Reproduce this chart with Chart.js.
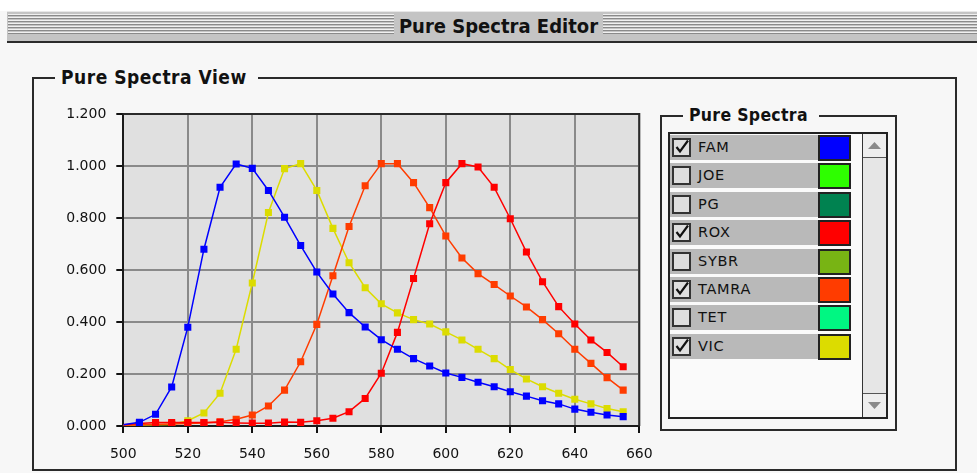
<!DOCTYPE html>
<html>
<head>
<meta charset="utf-8">
<title>Pure Spectra Editor</title>
<script src="https://cdn.jsdelivr.net/npm/chart.js@4.4.1/dist/chart.umd.min.js"></script>
<style>
  html, body { margin: 0; padding: 0; width: 977px; height: 473px; overflow: hidden; background: #f7f7f7; font-family: "DejaVu Sans", sans-serif; }
  #topstrip { position: absolute; left: 0; top: 0; width: 977px; height: 11px; background: #ffffff; }
  #titlebar { position: absolute; left: 7px; top: 11px; width: 970px; height: 30px; background: #c4c4c4; border-top: 1px solid #e8e8e8; box-sizing: border-box; }
  .stripes { position: absolute; top: 2px; height: 21px;
    background: repeating-linear-gradient(to bottom, #f0f0f0 0, #f0f0f0 1px, #8a8a8a 1px, #8a8a8a 2px, #c4c4c4 2px, #c4c4c4 3px); }
  #titletext { position: absolute; left: 387px; width: 209px; top: 0; height: 28px; line-height: 28px; text-align: center;
    font-family: "DejaVu Sans Condensed", "DejaVu Sans", sans-serif; font-stretch: condensed; font-weight: bold; font-size: 20px; color: #111; background: #c4c4c4; }
  #titleline { position: absolute; left: 7px; top: 41px; width: 970px; height: 2px; background: #2c2c2c; }
  .group { position: absolute; border: 2px solid #2a2a2a; box-sizing: border-box; }
  .grouptitle { position: absolute; background: #f7f7f7; font-family: "DejaVu Sans Condensed", "DejaVu Sans", sans-serif; font-stretch: condensed;
    font-weight: bold; color: #111; white-space: nowrap; }
  #viewgroup { left: 32px; top: 77px; width: 925px; height: 394px; }
  #viewtitle { left: 55px; top: 66px; padding: 0 11px 0 6px; font-size: 19px; line-height: 22px; letter-spacing: 0.5px; }
  #legendgroup { left: 660px; top: 115px; width: 237px; height: 316px; }
  #legendtitle { left: 683px; top: 105px; padding: 0 11px 0 6px; font-size: 17.5px; line-height: 20px; letter-spacing: 0.3px; }
  #listbox { position: absolute; left: 668px; top: 132px; width: 220px; height: 287px; border: 2px solid #222; box-sizing: border-box; background: #fafafa; }
  #scroll { position: absolute; right: 0; top: 0; width: 23px; height: 283px; border-left: 1px solid #333; background: #e6e6e6; }
  .sbtn { position: absolute; left: 0; width: 23px; height: 23px; background: #eeeeee; }
  #sup { top: 0; border-bottom: 1px solid #555; }
  #sdown { bottom: 0; border-top: 1px solid #555; }
  .sbtn svg { position: absolute; left: 5px; top: 8px; }
  .row { position: absolute; left: 0; width: 181px; height: 25px; background: #b9b9b9; }
  .cb { position: absolute; left: 2px; top: 3px; width: 19px; height: 19px; border: 2px solid #333; box-sizing: border-box; background: #dedede; }
  .cb svg { position: absolute; left: 0; top: 0; }
  .lbl { position: absolute; left: 28px; top: 0; height: 25px; line-height: 25px; font-size: 14.5px; letter-spacing: 0.7px; color: #111; }
  .sw { position: absolute; left: 148px; top: 0; width: 33px; height: 26px; border: 2px solid #222; box-sizing: border-box; }
  #plot { position: absolute; left: 30px; top: 100px; width: 640px; height: 372px; }
</style>
</head>
<body>
<div id="topstrip"></div>
<div id="titlebar">
  <div class="stripes" style="left:1px;width:386px;"></div>
  <div class="stripes" style="left:596px;width:374px;"></div>
  <div id="titletext">Pure Spectra Editor</div>
</div>
<div id="titleline"></div>

<div id="viewgroup" class="group"></div>
<div id="viewtitle" class="grouptitle">Pure Spectra View</div>

<div id="legendgroup" class="group"></div>
<div id="legendtitle" class="grouptitle">Pure Spectra</div>
<div id="listbox">
  <div id="rows"></div>
  <div id="scroll">
    <div id="sup" class="sbtn"><svg width="13" height="7"><polygon points="0,7 13,7 6.5,0" fill="#8a8a8a"/></svg></div>
    <div id="sdown" class="sbtn"><svg width="13" height="7"><polygon points="0,0 13,0 6.5,7" fill="#8a8a8a"/></svg></div>
  </div>
</div>

<div id="plot"><canvas id="chart"></canvas></div>

<script>
// Emission wavelengths (nm) sampled every 5 nm
const wavelengths = [500, 505, 510, 515, 520, 525, 530, 535, 540, 545, 550, 555, 560, 565, 570, 575,
                     580, 585, 590, 595, 600, 605, 610, 615, 620, 625, 630, 635, 640, 645, 650, 655];

// Normalised pure-dye spectra
const famValues   = [0.005, 0.014, 0.045, 0.150, 0.380, 0.680, 0.918, 1.008, 0.991, 0.906, 0.803, 0.694, 0.592, 0.508, 0.436, 0.381,
                     0.332, 0.295, 0.259, 0.231, 0.204, 0.187, 0.168, 0.151, 0.132, 0.115, 0.097, 0.085, 0.065, 0.053, 0.042, 0.036];
const roxValues   = [0.005, 0.010, 0.013, 0.013, 0.013, 0.013, 0.014, 0.012, 0.011, 0.011, 0.015, 0.014, 0.020, 0.030, 0.055, 0.106,
                     0.203, 0.360, 0.567, 0.778, 0.936, 1.009, 0.996, 0.918, 0.797, 0.669, 0.555, 0.459, 0.392, 0.331, 0.283, 0.228];
const tamraValues = [0.003, 0.005, 0.007, 0.008, 0.010, 0.012, 0.016, 0.026, 0.042, 0.077, 0.138, 0.247, 0.391, 0.578, 0.767, 0.924,
                     1.009, 1.009, 0.936, 0.840, 0.731, 0.646, 0.586, 0.544, 0.500, 0.458, 0.409, 0.355, 0.295, 0.241, 0.186, 0.138];
const vicValues   = [0.003, 0.004, 0.005, 0.006, 0.020, 0.050, 0.126, 0.295, 0.550, 0.821, 0.990, 1.009, 0.906, 0.760, 0.628, 0.532,
                     0.470, 0.435, 0.409, 0.392, 0.362, 0.331, 0.295, 0.259, 0.217, 0.181, 0.151, 0.126, 0.103, 0.085, 0.067, 0.055];

// Axis ticks
const xTicks = [500, 520, 540, 560, 580, 600, 620, 640, 660];
const yTicks = [0, 0.2, 0.4, 0.6, 0.8, 1.0, 1.2];

// Dye list
const dyeNames   = ['FAM', 'JOE', 'PG', 'ROX', 'SYBR', 'TAMRA', 'TET', 'VIC'];
const dyeColors  = ['#0000ff', '#2eff00', '#008250', '#ff0000', '#78b414', '#ff3c00', '#00f782', '#dcdc00'];
const dyeChecked = [true, false, false, true, false, true, false, true];

// Dye list rows
const rowsEl = document.getElementById('rows');
const checkSvg = '<svg width="15" height="15"><polyline points="2.5,7 6,11.5 14,0.5" fill="none" stroke="#111" stroke-width="2.2"/></svg>';
dyeNames.forEach((name, i) => {
  const row = document.createElement('div');
  row.className = 'row';
  row.style.top = (1 + i * 28.4) + 'px';
  row.innerHTML = '<div class="cb">' + (dyeChecked[i] ? checkSvg : '') + '</div>' +
                  '<div class="lbl">' + name + '</div>' +
                  '<div class="sw" style="background:' + dyeColors[i] + '"></div>';
  rowsEl.appendChild(row);
});

const colorOf = name => dyeColors[dyeNames.indexOf(name)];
const series = [
  { name: 'FAM',   values: famValues,   order: 0 },
  { name: 'ROX',   values: roxValues,   order: 1 },
  { name: 'TAMRA', values: tamraValues, order: 2 },
  { name: 'VIC',   values: vicValues,   order: 3 }
];

const datasets = series.map(s => ({
  label: s.name,
  data: wavelengths.map((w, i) => ({ x: w, y: s.values[i] })),
  borderColor: colorOf(s.name),
  backgroundColor: colorOf(s.name),
  borderWidth: 1.5,
  pointStyle: 'rect',
  pointRadius: ctx => (ctx.dataIndex === 0 ? 0 : 5),
  pointBorderWidth: 0,
  tension: 0,
  order: s.order
}));

// Grey plot background and dark top/right frame
const plotFrame = {
  id: 'plotFrame',
  beforeDraw(chart) {
    const { ctx, chartArea: a } = chart;
    ctx.save();
    ctx.fillStyle = '#e0e0e0';
    ctx.fillRect(a.left, a.top, a.right - a.left, a.bottom - a.top);
    ctx.restore();
  },
  beforeDatasetsDraw(chart) {
    const { ctx, chartArea: a } = chart;
    ctx.save();
    ctx.strokeStyle = '#2a2a2a';
    ctx.lineWidth = 2;
    ctx.beginPath();
    ctx.moveTo(a.left, a.top);
    ctx.lineTo(a.right, a.top);
    ctx.lineTo(a.right, a.bottom);
    ctx.stroke();
    ctx.restore();
  }
};

const tickFont = { family: '"DejaVu Sans", sans-serif', size: 14 };
const gridOpts = { color: '#8a8a8a', lineWidth: 2, drawTicks: true, tickLength: 7, tickColor: '#111', tickWidth: 2 };

new Chart(document.getElementById('chart'), {
  type: 'line',
  data: { datasets },
  plugins: [plotFrame],
  options: {
    responsive: true,
    maintainAspectRatio: false,
    animation: false,
    layout: { padding: { left: 0, top: 14, right: 30.7, bottom: 0 } },
    plugins: { legend: { display: false }, tooltip: { enabled: false } },
    scales: {
      x: {
        type: 'linear',
        min: xTicks[0],
        max: xTicks[xTicks.length - 1],
        afterBuildTicks: scale => { scale.ticks = xTicks.map(v => ({ value: v })); },
        afterFit: scale => { scale.height = 46; scale.paddingLeft = 0; scale.paddingRight = 0; },
        grid: gridOpts,
        border: { color: '#1a1a1a', width: 2 },
        ticks: { color: '#111', font: tickFont, padding: 13, maxRotation: 0, callback: v => String(v) }
      },
      y: {
        type: 'linear',
        min: yTicks[0],
        max: yTicks[yTicks.length - 1],
        afterBuildTicks: scale => { scale.ticks = yTicks.map(v => ({ value: v })); },
        afterFit: scale => { scale.width = 93.3; scale.paddingTop = 0; scale.paddingBottom = 0; },
        grid: gridOpts,
        border: { color: '#1a1a1a', width: 2 },
        ticks: { color: '#111', font: tickFont, padding: 10, callback: v => Number(v).toFixed(3) }
      }
    }
  }
});
</script>
</body>
</html>
